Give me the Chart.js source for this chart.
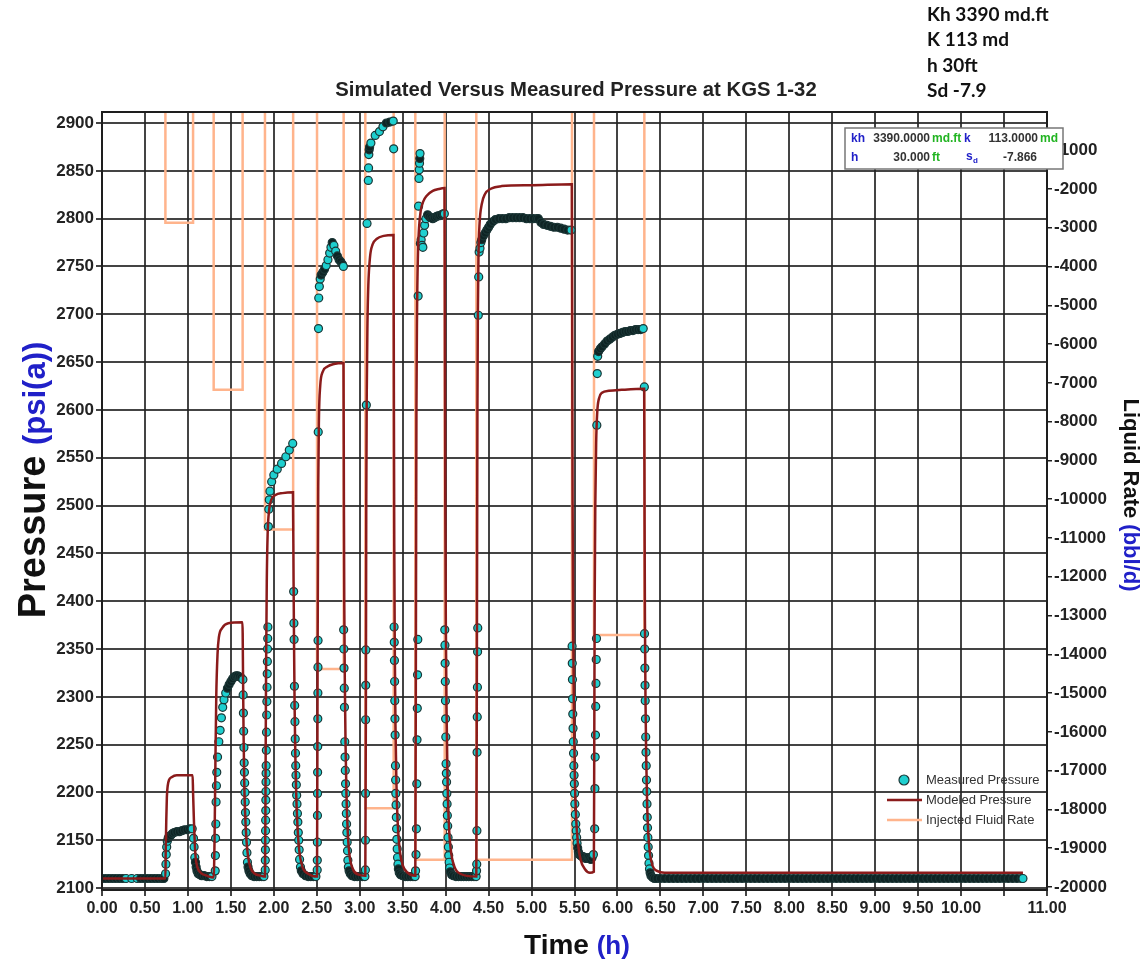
<!DOCTYPE html>
<html>
<head>
<meta charset="utf-8">
<title>Simulated Versus Measured Pressure at KGS 1-32</title>
<script src="https://cdn.jsdelivr.net/npm/chart.js@4.4.1/dist/chart.umd.min.js"></script>
<style>
  html, body { margin: 0; padding: 0; background: #fff; }
  #wrap { position: relative; width: 1146px; height: 968px; }
</style>
</head>
<body>
<div id="wrap"><canvas id="chart" width="1146" height="968"></canvas></div>
<script>
// ---- step-rate test, KGS 1-32 : [time h, value] ----

// gauge pressure, psi(a)
const measuredPressure = [
  // baseline
  [0,2110],[0.04,2110],[0.08,2110],[0.12,2110],[0.16,2110],[0.2,2110],[0.24,2110],[0.28,2110],[0.345,2110],[0.41,2110],[0.45,2110],[0.49,2110],[0.53,2110],[0.57,2110],[0.61,2110],[0.65,2110],[0.69,2110],[0.72,2110],
  // step 1
  [0.74,2115],[0.744,2125],[0.748,2135],[0.753,2143],[0.76,2149],[0.77,2152],[0.78,2154],[0.8,2155],[0.82,2157],[0.84,2158],[0.87,2159],[0.9,2159],[0.93,2160],[0.96,2161],[0.99,2161],[1.02,2162],[1.05,2162],
  [1.065,2152],[1.072,2143],[1.08,2132],[1.088,2127],[1.096,2122],[1.105,2118],[1.12,2115],[1.14,2114],[1.16,2113],[1.19,2113],[1.22,2112],[1.25,2112],[1.28,2112],
  // step 2
  [1.318,2118],[1.32,2134],[1.322,2152],[1.325,2167],[1.328,2190],[1.332,2207],[1.336,2221],[1.345,2237],[1.36,2253],[1.375,2265],[1.39,2278],[1.405,2289],[1.42,2297],[1.44,2304],[1.46,2309],[1.48,2313],[1.5,2316],[1.52,2319],[1.54,2321],[1.56,2322],[1.58,2322],[1.6,2321],[1.62,2320],
  [1.64,2318],[1.643,2302],[1.646,2283],[1.649,2264],[1.652,2247],[1.655,2231],[1.658,2221],[1.661,2210],[1.664,2200],[1.667,2190],[1.67,2179],[1.674,2169],[1.678,2158],[1.682,2148],[1.687,2137],[1.693,2127],[1.7,2122],[1.71,2118],[1.725,2115],[1.745,2113],[1.77,2112],[1.8,2112],[1.83,2112],[1.86,2112],[1.885,2112],
  // step 3
  [1.9,2119],[1.901,2129],[1.902,2140],[1.903,2150],[1.904,2160],[1.905,2171],[1.906,2181],[1.907,2192],[1.908,2201],[1.909,2211],[1.91,2220],[1.911,2228],[1.913,2244],[1.915,2263],[1.917,2281],[1.919,2295],[1.921,2310],[1.923,2324],[1.925,2337],[1.927,2350],[1.929,2361],[1.931,2373],[1.937,2478],[1.942,2496],[1.947,2506],[1.955,2515],[1.975,2525],[2,2532],[2.04,2538],[2.09,2544],[2.14,2551],[2.18,2558],[2.22,2565],
  [2.231,2410],[2.234,2377],[2.236,2360],[2.24,2311],[2.243,2291],[2.246,2274],[2.249,2256],[2.252,2241],[2.255,2228],[2.258,2218],[2.262,2208],[2.266,2197],[2.27,2188],[2.275,2178],[2.28,2169],[2.285,2158],[2.29,2150],[2.295,2140],[2.3,2130],[2.31,2122],[2.32,2118],[2.34,2115],[2.37,2113],[2.4,2112],[2.43,2112],[2.46,2112],[2.49,2112],
  // step 4
  [2.505,2119],[2.506,2129],[2.507,2148],[2.508,2176],[2.509,2199],[2.51,2221],[2.511,2248],[2.512,2277],[2.513,2304],[2.514,2331],[2.515,2359],[2.517,2577],[2.52,2685],[2.523,2717],[2.53,2729],[2.54,2737],[2.55,2741],[2.57,2744],[2.59,2747],[2.61,2751],[2.63,2757],[2.65,2764],[2.665,2770],[2.68,2775],[2.7,2772],[2.72,2766],[2.74,2761],[2.76,2757],[2.78,2755],[2.8,2752],[2.81,2750],
  [2.813,2370],[2.815,2350],[2.817,2330],[2.82,2309],[2.822,2289],[2.826,2253],[2.829,2237],[2.832,2223],[2.835,2209],[2.838,2199],[2.841,2188],[2.844,2178],[2.847,2167],[2.85,2158],[2.854,2148],[2.858,2139],[2.862,2129],[2.868,2122],[2.876,2118],[2.89,2115],[2.91,2113],[2.94,2112],[2.97,2112],[3,2112],[3.03,2112],[3.06,2112],
  // step 5
  [3.066,2119],[3.067,2150],[3.068,2199],[3.069,2276],[3.07,2312],[3.071,2349],[3.077,2605],[3.085,2795],[3.1,2840],[3.103,2853],[3.106,2867],[3.11,2872],[3.115,2875],[3.13,2879],[3.18,2887],[3.23,2891],[3.27,2896],[3.31,2900],[3.35,2901],[3.39,2902],
  [3.395,2873],[3.4,2373],[3.402,2357],[3.404,2338],[3.406,2316],[3.408,2296],[3.41,2277],[3.412,2260],[3.416,2228],[3.418,2213],[3.42,2199],[3.423,2187],[3.426,2174],[3.429,2162],[3.432,2151],[3.436,2141],[3.44,2132],[3.445,2125],[3.45,2120],[3.46,2116],[3.475,2114],[3.5,2113],[3.53,2112],[3.56,2112],[3.59,2112],[3.62,2112],[3.645,2112],
  // step 6
  [3.65,2118],[3.655,2135],[3.66,2162],[3.664,2209],[3.667,2255],[3.67,2288],[3.673,2323],[3.676,2360],[3.68,2719],[3.685,2813],[3.69,2842],[3.693,2851],[3.696,2858],[3.699,2863],[3.702,2868],[3.706,2774],[3.715,2778],[3.725,2772],[3.735,2770],[3.745,2785],[3.755,2793],[3.77,2800],[3.79,2804],[3.81,2802],[3.83,2801],[3.85,2800],[3.87,2801],[3.89,2802],[3.91,2803],[3.93,2803],[3.95,2804],[3.97,2805],[3.985,2805],
  [3.99,2370],[3.992,2354],[3.994,2335],[3.996,2316],[3.998,2296],[4,2277],[4.002,2258],[4.005,2230],[4.008,2220],[4.011,2211],[4.014,2199],[4.017,2188],[4.02,2176],[4.024,2165],[4.028,2153],[4.032,2143],[4.036,2134],[4.041,2127],[4.047,2121],[4.055,2117],[4.07,2114],[4.09,2113],[4.12,2112],[4.15,2112],[4.18,2112],[4.21,2112],[4.24,2112],[4.27,2112],[4.3,2112],[4.33,2112],[4.355,2112],
  // step 7
  [4.36,2118],[4.362,2125],[4.364,2160],[4.366,2242],[4.368,2279],[4.37,2310],[4.372,2347],[4.374,2372],[4.38,2699],[4.385,2739],[4.39,2765],[4.4,2769],[4.41,2775],[4.42,2778],[4.44,2782],[4.46,2785],[4.48,2788],[4.5,2791],[4.52,2794],[4.55,2797],[4.58,2799],[4.62,2800],[4.66,2800],[4.7,2800],[4.74,2801],[4.78,2801],[4.82,2801],[4.86,2801],[4.9,2801],[4.94,2800],[4.98,2800],[5.02,2800],[5.06,2800],[5.08,2800],[5.11,2796],[5.14,2794],[5.18,2793],[5.22,2792],[5.26,2791],[5.3,2791],[5.34,2790],[5.38,2789],[5.42,2788],[5.46,2788],
  [5.472,2353],[5.474,2335],[5.476,2318],[5.478,2298],[5.48,2282],[5.483,2267],[5.486,2253],[5.489,2241],[5.492,2228],[5.495,2218],[5.498,2209],[5.501,2199],[5.504,2188],[5.51,2177],[5.515,2167],[5.52,2160],[5.525,2153],[5.53,2147],[5.537,2142],[5.545,2138],[5.555,2135],[5.57,2134],[5.585,2133],[5.6,2133],[5.615,2132],[5.63,2131],[5.645,2131],[5.66,2132],[5.675,2131],[5.69,2130],[5.705,2132],[5.72,2135],
  // step 8
  [5.735,2162],[5.738,2204],[5.741,2237],[5.744,2260],[5.747,2290],[5.75,2314],[5.753,2339],[5.756,2361],[5.76,2584],[5.765,2638],[5.77,2656],[5.78,2661],[5.8,2664],[5.82,2666],[5.85,2669],[5.88,2672],[5.91,2674],[5.94,2676],[5.97,2678],[6,2679],[6.03,2680],[6.06,2681],[6.09,2682],[6.12,2682],[6.15,2683],[6.18,2683],[6.21,2684],[6.24,2684],[6.27,2684],[6.3,2685],
  [6.313,2624],[6.315,2366],[6.317,2350],[6.319,2330],[6.321,2312],[6.323,2296],[6.326,2277],[6.329,2258],[6.332,2242],[6.335,2228],[6.338,2213],[6.341,2201],[6.344,2188],[6.347,2174],[6.35,2163],[6.354,2153],[6.358,2143],[6.362,2134],[6.367,2126],[6.373,2120],[6.38,2116],[6.39,2113],[6.41,2111],[6.43,2110],[6.46,2110],
  // final falloff
  [6.5,2110],[6.55,2110],[6.6,2110],[6.65,2110],[6.7,2110],[6.75,2110],[6.8,2110],[6.85,2110],[6.9,2110],[6.95,2110],
  [7,2110],[7.05,2110],[7.1,2110],[7.15,2110],[7.2,2110],[7.25,2110],[7.3,2110],[7.35,2110],[7.4,2110],[7.45,2110],
  [7.5,2110],[7.55,2110],[7.6,2110],[7.65,2110],[7.7,2110],[7.75,2110],[7.8,2110],[7.85,2110],[7.9,2110],[7.95,2110],
  [8,2110],[8.05,2110],[8.1,2110],[8.15,2110],[8.2,2110],[8.25,2110],[8.3,2110],[8.35,2110],[8.4,2110],[8.45,2110],
  [8.5,2110],[8.55,2110],[8.6,2110],[8.65,2110],[8.7,2110],[8.75,2110],[8.8,2110],[8.85,2110],[8.9,2110],[8.95,2110],
  [9,2110],[9.05,2110],[9.1,2110],[9.15,2110],[9.2,2110],[9.25,2110],[9.3,2110],[9.35,2110],[9.4,2110],[9.45,2110],
  [9.5,2110],[9.55,2110],[9.6,2110],[9.65,2110],[9.7,2110],[9.75,2110],[9.8,2110],[9.85,2110],[9.9,2110],[9.95,2110],
  [10,2110],[10.05,2110],[10.1,2110],[10.15,2110],[10.2,2110],[10.25,2110],[10.3,2110],[10.35,2110],[10.4,2110],[10.45,2110],
  [10.5,2110],[10.55,2110],[10.6,2110],[10.65,2110],[10.7,2110],[10.72,2110]
];

// simulated pressure, psi(a)
const modeledPressure = [
  [0,2110],[0.738,2110],
  [0.742,2140],[0.748,2170],[0.755,2195],[0.765,2207],[0.78,2213],[0.81,2216],[0.87,2218],[1.055,2218],
  [1.06,2200],[1.07,2170],[1.08,2147],[1.09,2132],[1.11,2122],[1.15,2116],[1.22,2113],[1.3,2111],
  [1.31,2150],[1.32,2230],[1.33,2300],[1.345,2345],[1.36,2362],[1.4,2372],[1.47,2377],[1.635,2378],
  [1.642,2320],[1.648,2260],[1.656,2210],[1.665,2180],[1.68,2152],[1.7,2133],[1.73,2121],[1.78,2115],[1.85,2113],[1.897,2112],
  [1.903,2200],[1.91,2330],[1.918,2420],[1.928,2470],[1.945,2495],[1.97,2506],[2.02,2511],[2.1,2513],[2.223,2514],
  [2.23,2420],[2.235,2360],[2.242,2290],[2.25,2240],[2.26,2200],[2.275,2165],[2.295,2140],[2.33,2123],[2.4,2115],[2.503,2112],
  [2.51,2350],[2.517,2520],[2.525,2590],[2.54,2625],[2.57,2640],[2.62,2645],[2.7,2648],[2.811,2649],
  [2.816,2500],[2.82,2400],[2.826,2320],[2.835,2250],[2.845,2200],[2.86,2160],[2.88,2135],[2.92,2120],[2.99,2114],[3.065,2113],
  [3.072,2300],[3.076,2500],[3.082,2620],[3.09,2690],[3.1,2730],[3.12,2760],[3.15,2773],[3.2,2779],[3.28,2782],[3.393,2783],
  [3.398,2600],[3.402,2460],[3.408,2350],[3.416,2270],[3.427,2210],[3.442,2168],[3.465,2140],[3.5,2124],[3.56,2116],[3.647,2113],
  [3.655,2400],[3.66,2600],[3.667,2700],[3.677,2760],[3.69,2790],[3.71,2808],[3.74,2818],[3.78,2824],[3.85,2829],[3.92,2831],[3.987,2832],
  [3.992,2650],[3.996,2500],[4.002,2380],[4.01,2290],[4.021,2220],[4.036,2170],[4.06,2140],[4.1,2123],[4.17,2115],[4.357,2112],
  [4.364,2350],[4.37,2600],[4.375,2700],[4.382,2760],[4.395,2795],[4.42,2815],[4.46,2826],[4.52,2831],[4.65,2834],[5,2835],[5.469,2836],
  [5.474,2650],[5.478,2500],[5.484,2380],[5.492,2290],[5.503,2220],[5.518,2175],[5.54,2147],[5.57,2130],[5.62,2120],[5.68,2116],[5.725,2117],
  [5.73,2250],[5.735,2400],[5.742,2500],[5.752,2565],[5.765,2598],[5.785,2612],[5.82,2618],[5.9,2620],[6.05,2621],[6.311,2622],
  [6.316,2480],[6.32,2380],[6.326,2300],[6.334,2240],[6.345,2190],[6.36,2155],[6.38,2135],[6.41,2123],[6.46,2118],[6.55,2116],[10.72,2116]
];

// injected liquid rate, bbl/d (negative = injection); each value holds until the next time
const injectedRate = [
  [0,0],[0.738,-2870],[1.06,0],[1.3,-7180],[1.637,0],[1.897,-10780],[2.225,0],[2.503,-14380],[2.813,0],
  [3.065,-17970],[3.395,0],[3.647,-19300],[3.989,0],[4.357,-19300],[5.471,0],[5.727,-13500],[6.313,0],[10.72,0]
];

const timeTicks = [0,0.5,1,1.5,2,2.5,3,3.5,4,4.5,5,5.5,6,6.5,7,7.5,8,8.5,9,9.5,10,10.5,11];
const pressureTicks = [2100,2150,2200,2250,2300,2350,2400,2450,2500,2550,2600,2650,2700,2750,2800,2850,2900];
const rateTicks = [-20000,-19000,-18000,-17000,-16000,-15000,-14000,-13000,-12000,-11000,-10000,
  -9000,-8000,-7000,-6000,-5000,-4000,-3000,-2000,-1000];

const wellNotes = ['Kh 3390 md.ft', 'K 113 md', 'h 30ft', 'Sd -7.9'];
const fitNames = ['kh', 'k', 'h', 's'];
const fitValues = ['3390.0000', '113.0000', '30.000', '-7.866'];
const fitUnits = ['md.ft', 'md', 'ft', ''];

// ---- colours ----
const CYAN = '#1fcfcf', DOT_EDGE = '#1b3636', DENSE = '#0e2424';
const RED = '#8b1b1b', ORANGE = '#ffb48c', BLUE = '#2020c8', GREEN = '#22b422';
const GRID = 'rgba(35,35,35,0.85)', INK = '#1e1e1e';
const FONT = '"Liberation Sans", Arial, sans-serif';

Chart.defaults.font.family = FONT;

// points packed tighter than ~5px merge into a dark band, loose ones stay cyan
function dotFill(ctx) {
  if (ctx.type !== 'data') return CYAN;
  const sx = ctx.chart.scales.x, sy = ctx.chart.scales.y;
  const i = ctx.dataIndex, m = measuredPressure;
  const near = (a, b) => a && b &&
    Math.hypot(sx.getPixelForValue(a[0]) - sx.getPixelForValue(b[0]),
               sy.getPixelForValue(a[1]) - sy.getPixelForValue(b[1])) < 5.5;
  return near(m[i - 1], m[i]) && near(m[i], m[i + 1]) ? DENSE : CYAN;
}

function setTicks(values) {
  return scale => { scale.ticks = values.map(v => ({ value: v })); };
}

function text(ctx, str, x, y, color, font, align) {
  ctx.font = font;
  ctx.fillStyle = color;
  ctx.textAlign = align || 'left';
  ctx.fillText(str, x, y);
}

// axis title made of [text, colour, size] parts sharing one baseline, centred on (x, y)
function axisTitle(ctx, parts, x, y, angle) {
  ctx.save();
  ctx.translate(x, y);
  ctx.rotate(angle);
  ctx.textBaseline = 'alphabetic';
  ctx.textAlign = 'left';
  const big = Math.max(...parts.map(p => p[2]));
  const widths = parts.map(([str, , size]) => {
    ctx.font = `bold ${size}px ${FONT}`;
    return ctx.measureText(str).width;
  });
  let cx = -widths.reduce((a, b) => a + b, 0) / 2;
  parts.forEach(([str, color, size], i) => {
    ctx.font = `bold ${size}px ${FONT}`;
    ctx.fillStyle = color;
    ctx.fillText(str, cx, big * 0.36);
    cx += widths[i];
  });
  ctx.restore();
}

const decorations = {
  id: 'decorations',
  afterDraw(chart) {
    const ctx = chart.ctx, a = chart.chartArea;
    ctx.save();

    // plot frame
    ctx.strokeStyle = INK;
    ctx.lineWidth = 2;
    ctx.strokeRect(a.left, a.top, a.right - a.left, a.bottom - a.top);

    ctx.textBaseline = 'middle';
    text(ctx, 'Simulated Versus Measured Pressure at KGS 1-32', 576, 90, '#222', `bold 20.3px ${FONT}`, 'center');

    wellNotes.forEach((s, i) => text(ctx, s, 927, 15 + i * 25.3, '#111', 'bold 19px Lato, sans-serif'));

    // fitted parameters box
    ctx.fillStyle = '#fff';
    ctx.fillRect(845, 128, 218, 41);
    ctx.strokeStyle = '#777';
    ctx.lineWidth = 1.5;
    ctx.strokeRect(845, 128, 218, 41);
    const f = `bold 12px ${FONT}`;
    text(ctx, fitNames[0], 851, 139, BLUE, f);
    text(ctx, fitValues[0], 930, 139, '#333', f, 'right');
    text(ctx, fitUnits[0], 932, 139, GREEN, f);
    text(ctx, fitNames[1], 964, 139, BLUE, f);
    text(ctx, fitValues[1], 1038, 139, '#333', f, 'right');
    text(ctx, fitUnits[1], 1040, 139, GREEN, f);
    text(ctx, fitNames[2], 851, 158, BLUE, f);
    text(ctx, fitValues[2], 930, 158, '#333', f, 'right');
    text(ctx, fitUnits[2], 932, 158, GREEN, f);
    text(ctx, fitNames[3], 966, 157, BLUE, f);
    text(ctx, 'd', 973, 161, BLUE, `bold 8px ${FONT}`);
    text(ctx, fitValues[3], 1037, 158, '#333', f, 'right');

    // legend
    const ds = chart.data.datasets;
    ctx.beginPath();
    ctx.arc(904, 780, 5, 0, Math.PI * 2);
    ctx.fillStyle = CYAN;
    ctx.fill();
    ctx.strokeStyle = DOT_EDGE;
    ctx.lineWidth = 1.2;
    ctx.stroke();
    [[800, RED], [820, ORANGE]].forEach(([y, c]) => {
      ctx.beginPath();
      ctx.moveTo(887, y);
      ctx.lineTo(922, y);
      ctx.strokeStyle = c;
      ctx.lineWidth = 2.5;
      ctx.stroke();
    });
    ds.forEach((d, i) => text(ctx, d.label, 926, 780 + i * 20, '#333', `13px ${FONT}`));

    // axis titles
    axisTitle(ctx, [['Pressure ', '#111', 38], ['(psi(a))', BLUE, 31]], 31, 480, -Math.PI / 2);
    axisTitle(ctx, [['Time ', '#111', 28], ['(h)', BLUE, 26]], 577, 944, 0);
    axisTitle(ctx, [['Liquid Rate ', '#111', 22], ['(bbl/d)', BLUE, 22]], 1132, 495, Math.PI / 2);

    ctx.restore();
  }
};

const toXY = arr => arr.map(([x, y]) => ({ x, y }));

new Chart(document.getElementById('chart'), {
  type: 'line',
  data: {
    datasets: [
      {
        label: 'Measured Pressure',
        data: toXY(measuredPressure),
        yAxisID: 'y',
        showLine: false,
        pointRadius: 4,
        pointBorderWidth: 1.2,
        pointBorderColor: DOT_EDGE,
        pointBackgroundColor: dotFill,
        order: 1
      },
      {
        label: 'Modeled Pressure',
        data: toXY(modeledPressure),
        yAxisID: 'y',
        borderColor: RED,
        borderWidth: 2.5,
        pointRadius: 0,
        cubicInterpolationMode: 'monotone',
        order: 0
      },
      {
        label: 'Injected Fluid Rate',
        data: toXY(injectedRate),
        yAxisID: 'rate',
        borderColor: ORANGE,
        borderWidth: 2.5,
        pointRadius: 0,
        stepped: 'before',
        order: 2
      }
    ]
  },
  options: {
    responsive: false,
    animation: false,
    events: [],
    layout: { padding: { top: 112 } },
    plugins: { legend: { display: false }, tooltip: { enabled: false } },
    scales: {
      x: {
        type: 'linear',
        min: 0,
        max: 11,
        afterBuildTicks: setTicks(timeTicks),
        afterFit: s => { s.height = 78; },
        ticks: {
          autoSkip: false,
          maxRotation: 0,
          padding: 3,
          color: '#222',
          font: { size: 16, weight: 'bold' },
          callback: v => (v === 10.5 ? '' : v.toFixed(2))   // 10.50 left blank
        },
        grid: { color: GRID, lineWidth: 2, tickLength: 6 },
        border: { color: INK, width: 2 }
      },
      y: {
        position: 'left',
        min: 2098,
        max: 2911.5,
        afterBuildTicks: setTicks(pressureTicks),
        afterFit: s => { s.width = 102; },
        ticks: { padding: 2, color: '#222', font: { size: 17, weight: 'bold' }, callback: v => String(v) },
        grid: { color: GRID, lineWidth: 2, tickLength: 6 },
        border: { color: INK, width: 2 }
      },
      rate: {
        position: 'right',
        min: -20077,
        max: -15,
        afterBuildTicks: setTicks(rateTicks),
        afterFit: s => { s.width = 99; },
        ticks: { padding: 2, color: '#222', font: { size: 17, weight: 'bold' }, callback: v => String(v) },
        grid: { drawOnChartArea: false, color: INK, lineWidth: 1.5, tickLength: 5 },
        border: { color: INK, width: 2 }
      }
    }
  },
  plugins: [decorations]
});
</script>
</body>
</html>
